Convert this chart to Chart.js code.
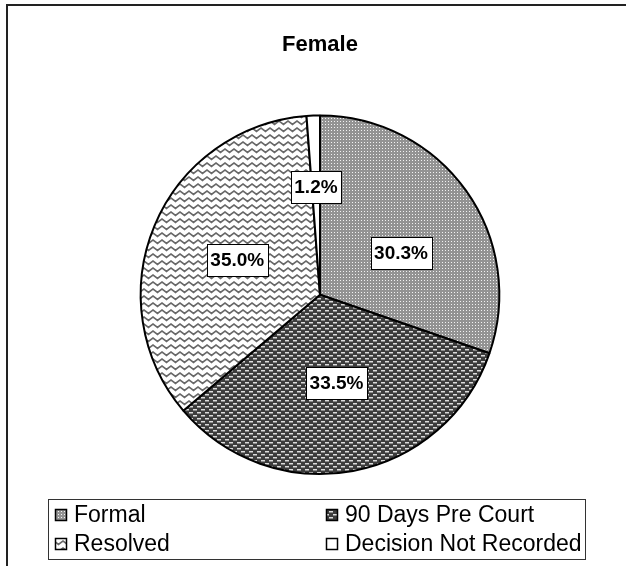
<!DOCTYPE html>
<html>
<head>
<meta charset="utf-8">
<script src="https://cdn.jsdelivr.net/npm/chart.js@4"></script>
<style>
  html, body { margin: 0; padding: 0; background: #fff; }
  #wrap { width: 626px; height: 566px; position: relative; }
</style>
</head>
<body>
<div id="wrap"><canvas id="pie"></canvas></div>
<script>
const categories = ['Formal', '90 Days Pre Court', 'Resolved', 'Decision Not Recorded'];
const shares = [30.3, 33.5, 35.0, 1.2];
const chartTitle = 'Female';

// fill patterns, like the old Excel hatch fills
function makePattern(w, h, draw) {
    const c = document.createElement('canvas');
    c.width = w;
    c.height = h;
    const g = c.getContext('2d');
    draw(g);
    return g.createPattern(c, 'repeat');
}

const dotted = makePattern(3, 3, g => {
    g.fillStyle = '#939393';
    g.fillRect(0, 0, 3, 3);
    g.fillStyle = '#f2f2f2';
    g.fillRect(1, 1, 1, 1);
});

const brick = makePattern(8, 6, g => {
    g.fillStyle = '#3c3c3c';
    g.fillRect(0, 0, 8, 6);
    g.fillStyle = '#dcdcdc';
    g.fillRect(1, 1, 4, 1);
    g.fillStyle = '#8a8a8a';
    g.fillRect(1, 2, 4, 1);
    g.fillStyle = '#dcdcdc';
    g.fillRect(5, 4, 4, 1);
    g.fillRect(0, 4, 1, 1);
    g.fillStyle = '#8a8a8a';
    g.fillRect(5, 5, 4, 1);
    g.fillRect(0, 5, 1, 1);
});

const wavy = makePattern(9, 7, g => {
    g.fillStyle = '#ffffff';
    g.fillRect(0, 0, 9, 7);
    g.strokeStyle = '#686868';
    g.lineWidth = 1.7;
    g.beginPath();
    g.moveTo(-2.25, 4);
    g.lineTo(0, 2);
    g.lineTo(4.5, 5.5);
    g.lineTo(9, 2);
    g.lineTo(11.25, 4);
    g.stroke();
});

const fills = [dotted, brick, wavy, '#ffffff'];

// frame round the chart (only top and left show in the picture)
const framePlugin = {
    id: 'frame',
    beforeDraw(chart) {
        const ctx = chart.ctx;
        ctx.save();
        ctx.strokeStyle = '#222';
        ctx.lineWidth = 2;
        ctx.beginPath();
        ctx.moveTo(7, 566);
        ctx.lineTo(7, 5);
        ctx.lineTo(626, 5);
        ctx.stroke();
        ctx.restore();
    }
};

// white boxed percentage labels
const boxLabels = {
    id: 'boxLabels',
    afterDatasetsDraw(chart, args, opts) {
        const ctx = chart.ctx;
        const meta = chart.getDatasetMeta(0);
        ctx.save();
        ctx.font = 'bold 19px "Liberation Sans", Arial, sans-serif';
        ctx.textAlign = 'center';
        ctx.textBaseline = 'middle';
        meta.data.forEach((arc, i) => {
            const p = arc.getProps(['x', 'y', 'startAngle', 'endAngle', 'outerRadius'], true);
            const mid = (p.startAngle + p.endAngle) / 2;
            const frac = shares[i] < 5 ? 0.6 : 0.5;
            const nudge = opts.nudge[i] || [0, 0];
            const x = p.x + Math.cos(mid) * p.outerRadius * frac + nudge[0];
            const y = p.y + Math.sin(mid) * p.outerRadius * frac + nudge[1];
            const txt = shares[i].toFixed(1) + '%';
            const w = ctx.measureText(txt).width + 7;
            const h = 32;
            ctx.fillStyle = '#fff';
            ctx.fillRect(Math.round(x - w / 2), Math.round(y - h / 2), Math.round(w), h);
            ctx.strokeStyle = '#000';
            ctx.lineWidth = 1;
            ctx.strokeRect(Math.round(x - w / 2) + 0.5, Math.round(y - h / 2) + 0.5, Math.round(w), h);
            ctx.fillStyle = '#000';
            ctx.fillText(txt, x, y + 1);
        });
        ctx.restore();
    }
};

// two-column boxed legend under the pie
const boxLegend = {
    id: 'boxLegend',
    afterDraw(chart, args, opts) {
        const ctx = chart.ctx;
        const b = opts.box;
        ctx.save();
        ctx.fillStyle = '#fff';
        ctx.fillRect(b.x, b.y, b.w, b.h);
        ctx.strokeStyle = '#333';
        ctx.lineWidth = 1;
        ctx.strokeRect(b.x + 0.5, b.y + 0.5, b.w, b.h);
        ctx.font = '23px "Liberation Sans", Arial, sans-serif';
        ctx.textBaseline = 'middle';
        ctx.textAlign = 'left';
        categories.forEach((name, i) => {
            const col = i % 2;
            const row = Math.floor(i / 2);
            const sx = opts.cols[col];
            const cy = opts.rows[row];
            ctx.fillStyle = fills[i];
            ctx.fillRect(sx, cy - 6, 12, 12);
            ctx.strokeStyle = '#000';
            ctx.lineWidth = 1.5;
            ctx.strokeRect(sx + 0.5, cy - 5.5, 11, 11);
            ctx.fillStyle = '#000';
            ctx.fillText(name, sx + 19, cy + 1);
        });
        ctx.restore();
    }
};

const ctx = document.getElementById('pie').getContext('2d');
new Chart(ctx, {
    type: 'pie',
    data: {
        labels: categories,
        datasets: [{
            data: shares,
            backgroundColor: fills,
            borderColor: '#000',
            borderWidth: 2
        }]
    },
    options: {
        responsive: true,
        maintainAspectRatio: false,
        animation: false,
        layout: {
            padding: { left: 14, right: 0, top: 0, bottom: 91 }
        },
        plugins: {
            title: {
                display: true,
                text: chartTitle,
                color: '#000',
                font: { family: '"Liberation Sans", Arial, sans-serif', size: 22, weight: 'bold' },
                padding: { top: 32, bottom: 56 }
            },
            legend: { display: false },
            tooltip: { enabled: false },
            boxLabels: {
                nudge: [[8, 10], [0, 0], [0, 0], [0, 0]]
            },
            boxLegend: {
                box: { x: 48, y: 499, w: 537, h: 60 },
                cols: [55, 326],
                rows: [515, 544]
            }
        }
    },
    plugins: [framePlugin, boxLabels, boxLegend]
});
</script>
</body>
</html>
